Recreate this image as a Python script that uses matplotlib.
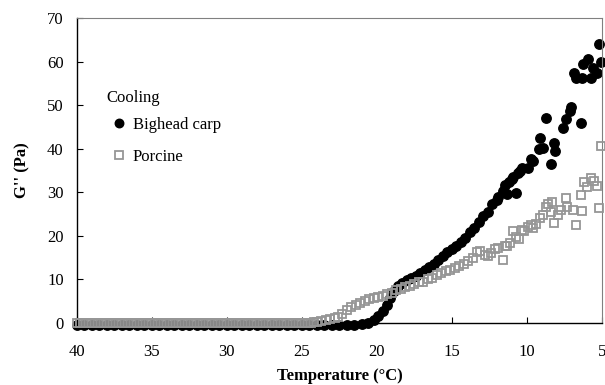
import matplotlib
matplotlib.use("Agg")
import matplotlib.pyplot as plt

# Fonte serifada (tipo Times)
plt.rcParams['font.family'] = ['Liberation Serif', 'DejaVu Serif']

####################
# Dados de entrada #
####################

# Carpa (Bighead carp): zona plana 40 -> 22 C, depois subida
carp_temp = [40.0, 39.5, 39.0, 38.5, 38.0, 37.5, 37.0, 36.5, 36.0, 35.5,
             35.0, 34.5, 34.0, 33.5, 33.0, 32.5, 32.0, 31.5, 31.0, 30.5,
             30.0, 29.5, 29.0, 28.5, 28.0, 27.5, 27.0, 26.5, 26.0, 25.5,
             25.0, 24.5, 24.0, 23.5, 23.0, 22.5, 22.0,
             21.5, 21.0, 20.6, 20.2, 19.9, 19.6, 19.35, 19.1, 18.85, 18.6,
             18.3, 18.0, 17.7, 17.4, 17.1, 16.8, 16.5, 16.2, 15.9, 15.6,
             15.3, 15.0, 14.7, 14.4, 14.1, 13.8, 13.5, 13.2, 12.9, 12.6,
             12.3, 12.0, 11.9, 11.6, 11.45, 11.3, 11.2, 11.0, 10.9, 10.75,
             10.6, 10.45, 10.3, 9.95, 9.75, 9.6, 9.2, 9.1, 8.95, 8.75,
             8.4, 8.2, 8.1, 7.6, 7.4, 7.1, 7.05, 6.85, 6.7, 6.4,
             6.3, 6.25, 5.9, 5.7, 5.6, 5.3, 5.2, 5.05]
carp_g = [-0.4, -0.4, -0.4, -0.4, -0.4, -0.4, -0.4, -0.4, -0.4, -0.4,
          -0.4, -0.4, -0.4, -0.4, -0.4, -0.4, -0.4, -0.4, -0.4, -0.4,
          -0.4, -0.4, -0.4, -0.4, -0.4, -0.4, -0.4, -0.4, -0.4, -0.4,
          -0.4, -0.4, -0.5, -0.5, -0.5, -0.5, -0.5,
          -0.4, -0.3, 0.0, 0.8, 1.6, 2.8, 4.2, 5.7, 7.3, 8.5,
          9.2, 9.8, 10.3, 10.9, 11.5, 12.1, 12.8, 13.5, 14.4, 15.3,
          16.2, 16.9, 17.7, 18.6, 19.6, 20.8, 21.9, 23.1, 24.6, 25.6,
          27.3, 28.2, 29.0, 30.4, 31.6, 29.6, 32.4, 33.0, 33.5, 29.8,
          34.4, 35.0, 35.6, 35.6, 37.6, 37.2, 40.0, 42.5, 40.2, 47.0,
          36.6, 41.3, 39.5, 44.8, 46.8, 48.6, 49.5, 57.4, 56.2, 46.0,
          56.2, 59.4, 60.6, 56.2, 58.5, 57.4, 64.0, 60.0]

# Porco (Porcine): zona plana 40 -> 24.2 C (leituras densas), depois subida
porc_temp = [40.0, 39.8, 39.6, 39.4, 39.2, 39.0, 38.8, 38.6, 38.4, 38.2,
             38.0, 37.8, 37.6, 37.4, 37.2, 37.0, 36.8, 36.6, 36.4, 36.2,
             36.0, 35.8, 35.6, 35.4, 35.2, 35.0, 34.8, 34.6, 34.4, 34.2,
             34.0, 33.8, 33.6, 33.4, 33.2, 33.0, 32.8, 32.6, 32.4, 32.2,
             32.0, 31.8, 31.6, 31.4, 31.2, 31.0, 30.8, 30.6, 30.4, 30.2,
             30.0, 29.8, 29.6, 29.4, 29.2, 29.0, 28.8, 28.6, 28.4, 28.2,
             28.0, 27.8, 27.6, 27.4, 27.2, 27.0, 26.8, 26.6, 26.4, 26.2,
             26.0, 25.8, 25.6, 25.4, 25.2, 25.0, 24.8, 24.6, 24.4, 24.2,
             24.0, 23.7, 23.4, 23.1, 22.8, 22.6, 22.3, 22.0, 21.7, 21.4,
             21.1, 20.8, 20.5, 20.2, 19.9, 19.6, 19.3, 19.0, 18.7, 18.4,
             18.1, 17.8, 17.5, 17.2, 16.9, 16.6, 16.3, 16.0, 15.7, 15.4,
             15.1, 14.8, 14.5, 14.2, 13.9, 13.6, 13.3, 13.1, 12.8, 12.6,
             12.4, 12.1, 11.9, 11.6, 11.45, 11.3, 11.1, 10.9, 10.7, 10.5,
             10.3, 10.2, 9.95, 9.75, 9.6, 9.4, 9.1, 8.9, 8.7, 8.6,
             8.4, 8.3, 8.2, 7.9, 7.7, 7.4, 7.3, 6.9, 6.7, 6.4,
             6.3, 6.2, 6.0, 5.7, 5.5, 5.3, 5.2, 5.06]
porc_g = [0.0, 0.0, 0.0, 0.0, 0.0, 0.0, 0.0, 0.0, 0.0, 0.0,
          0.0, 0.0, 0.0, 0.0, 0.0, 0.0, 0.0, 0.0, 0.0, 0.0,
          0.0, 0.0, 0.0, 0.0, 0.0, 0.0, 0.0, 0.0, 0.0, 0.0,
          0.0, 0.0, 0.0, 0.0, 0.0, 0.0, 0.0, 0.0, 0.0, 0.0,
          0.0, 0.0, 0.0, 0.0, 0.0, 0.0, 0.0, 0.0, 0.0, 0.0,
          0.0, 0.0, 0.0, 0.0, 0.0, 0.0, 0.0, 0.0, 0.0, 0.0,
          0.0, 0.0, 0.0, 0.0, 0.0, 0.0, 0.0, 0.0, 0.0, 0.0,
          0.0, 0.0, 0.0, 0.0, 0.0, 0.0, 0.0, 0.1, 0.1, 0.2,
          0.3, 0.5, 0.7, 0.9, 1.1, 1.3, 2.0, 2.9, 3.6, 4.1,
          4.6, 5.1, 5.5, 5.7, 5.9, 6.2, 6.6, 7.0, 7.5, 7.9,
          8.2, 8.6, 9.0, 9.5, 9.4, 10.0, 10.4, 11.1, 11.4, 12.0,
          12.2, 12.6, 13.1, 13.5, 14.3, 14.9, 16.3, 16.5, 15.6, 15.4,
          16.0, 17.0, 17.2, 14.4, 17.6, 17.7, 18.4, 21.1, 19.8, 19.2,
          21.3, 21.1, 22.0, 22.5, 21.8, 22.7, 24.2, 24.8, 26.6, 27.3,
          25.4, 27.8, 23.0, 24.7, 26.0, 28.6, 26.6, 26.0, 22.4, 29.3,
          25.7, 32.4, 31.3, 33.2, 32.5, 31.5, 26.5, 40.6]

xticks = [40, 35, 30, 25, 20, 15, 10, 5]
yticks = [0, 10, 20, 30, 40, 50, 60, 70]

###########
# Grafico #
###########
fig = plt.figure(figsize=(6.05, 3.85), dpi=100)
ax = fig.add_axes([0.127, 0.161, 0.868, 0.792])

ax.plot(carp_temp, carp_g, linestyle='none', marker='o', ms=6.8,
        color='black', label='Bighead carp', zorder=2, clip_on=False)
ax.plot(porc_temp, porc_g, linestyle='none', marker='s', ms=6.0,
        mfc='none', mec='#969696', mew=1.3, label='Porcine', zorder=3,
        clip_on=False)

ax.set_xlim(40, 5)
ax.set_ylim(0, 70)
ax.set_xticks(xticks)
ax.set_yticks(yticks)
ax.tick_params(direction='in', labelsize=12, length=4, width=0.8)
ax.tick_params(axis='x', pad=15)
ax.tick_params(axis='y', pad=9.5)

for s in ['top', 'right']:
    ax.spines[s].set_color('#808080')
    ax.spines[s].set_linewidth(0.8)
for s in ['left', 'bottom']:
    ax.spines[s].set_linewidth(1.0)

ax.set_xlabel('Temperature (°C)', fontsize=12, fontweight='bold', labelpad=6)
ax.set_ylabel("G'' (Pa)", fontsize=12, fontweight='bold', labelpad=12)

ax.text(0.057, 0.738, 'Cooling', transform=ax.transAxes, fontsize=12,
        va='center', ha='left')
ax.legend(loc='upper left', bbox_to_anchor=(0.068, 0.677), frameon=False,
          fontsize=12, handlelength=0.8, handletextpad=0.4,
          labelspacing=1.0, borderpad=0, borderaxespad=0, markerscale=0.9)

fig.savefig('out.png', dpi=100)
